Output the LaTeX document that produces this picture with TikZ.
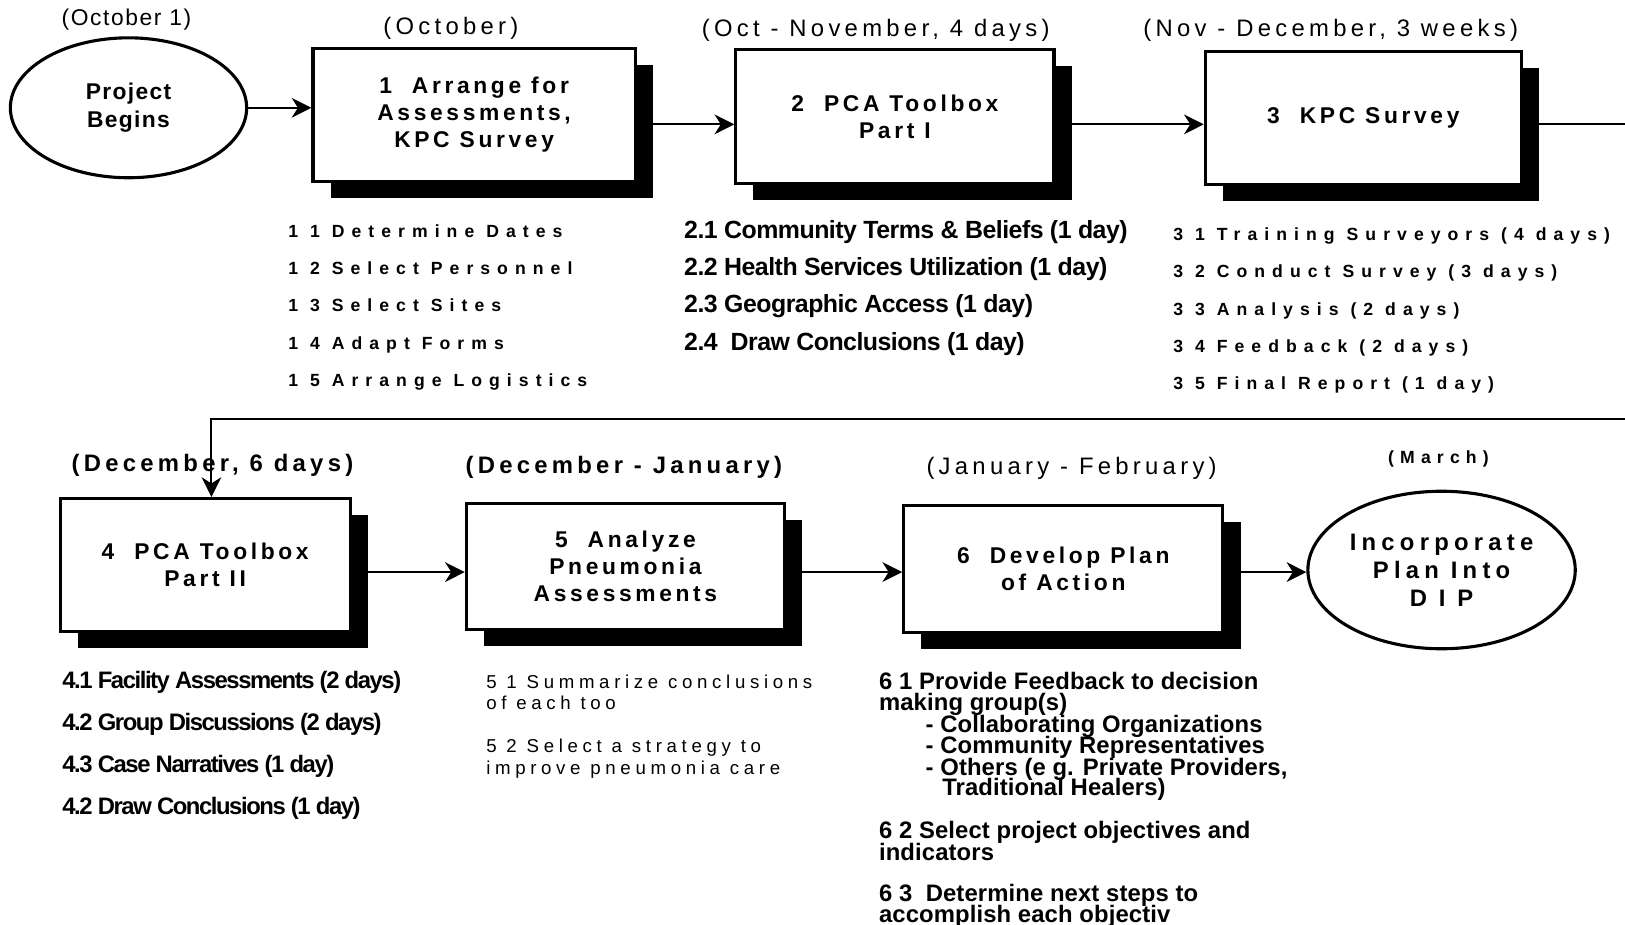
\documentclass[tikz,border=0pt]{standalone}
\usepackage{fontspec}
\setmainfont{Liberation Sans}
\newfontfamily\titlefont{Liberation Sans}[LetterSpace=16]
\newfontfamily\spaced{Liberation Sans}[LetterSpace=18]
\newfontfamily\lightspaced{Liberation Sans}[LetterSpace=7]
\newfontfamily\widefont{Liberation Sans}[LetterSpace=40]
\newfontfamily\medspaced{Liberation Sans}[LetterSpace=25]
\newfontfamily\marchfont{Liberation Sans}[LetterSpace=35]
\newfontfamily\tightfont{Liberation Sans}[LetterSpace=-2]
\newfontfamily\tighterfont{Liberation Sans}[LetterSpace=-6]
\newfontfamily\planfont{Liberation Sans}[LetterSpace=0.5]
\newfontfamily\ovalfont{Liberation Sans}[LetterSpace=6]
\newfontfamily\ovaltwofont{Liberation Sans}[LetterSpace=22]
\usetikzlibrary{shadows,arrows.meta,shapes.geometric}

\tikzset{
  stepbox/.style={draw, line width=3pt, fill=white, align=center, inner sep=0pt,
    font=\titlefont\bfseries\fontsize{22}{26}\selectfont,
    drop shadow={shadow xshift=17pt, shadow yshift=-16pt, fill=black, opacity=1}},
  oval/.style={ellipse, draw, line width=3pt, fill=white, inner sep=0pt, align=center},
  arr/.style={line width=2pt, -{Stealth[length=19pt, width=19pt, inset=6pt]}},
  conn/.style={line width=2pt},
  datelbl/.style={inner sep=0pt, font=\spaced\fontsize{23}{27}\selectfont},
  datebold/.style={inner sep=0pt, font=\spaced\bfseries\fontsize{23}{27}\selectfont},
  widelist/.style={inner sep=0pt, anchor=base west, font=\widefont\bfseries\fontsize{17}{20}\selectfont},
  narrowlist/.style={inner sep=0pt, anchor=base west, font=\tightfont\bfseries\fontsize{24}{28}\selectfont},
  narrowerlist/.style={inner sep=0pt, anchor=base west, font=\tighterfont\bfseries\fontsize{23}{27}\selectfont},
  plainlist/.style={inner sep=0pt, anchor=base west, font=\medspaced\fontsize{18}{21}\selectfont},
  planlist/.style={inner sep=0pt, anchor=base west, font=\planfont\bfseries\fontsize{23}{26}\selectfont},
}

\begin{document}
\begin{tikzpicture}[x=1pt, y=-1pt]
\useasboundingbox (0,0) rectangle (1568,892);

% ---- first row ----
\node[oval, minimum width=228pt, minimum height=135pt,
      font=\ovalfont\bfseries\fontsize{22}{27}\selectfont] (e1) at (124,104) {Project\\Begins};
\node[stepbox, minimum width=311pt, minimum height=128pt] (b1) at (457.5,111)
  {1\ \ Arrange for\\Assessments,\\KPC Survey};
\node[stepbox, minimum width=307pt, minimum height=129pt] (b2) at (863.5,112.5)
  {2\ \ PCA Toolbox\\Part I};
\node[stepbox, minimum width=305pt, minimum height=128pt] (b3) at (1315.5,114)
  {3\ \ KPC Survey};

\node[inner sep=0pt, font=\lightspaced\fontsize{22}{26}\selectfont] (d0) at (122,19) {(October 1)};
\node[datelbl] (d1) at (435,27) {(October)};
\node[datelbl] (d2) at (845,29) {(Oct - November, 4 days)};
\node[datelbl] (d3) at (1284,29) {(Nov - December, 3 weeks)};

% ---- second row ----
\node[stepbox, minimum width=280pt, minimum height=128pt] (b4) at (198,545)
  {4\ \ PCA Toolbox\\Part II};
\node[stepbox, minimum width=307pt, minimum height=121pt] (b5) at (603.5,546.5)
  {5\ \ Analyze\\Pneumonia\\Assessments};
\node[stepbox, minimum width=308pt, minimum height=122pt] (b6) at (1026,549)
  {6\ \ Develop Plan\\of Action};
\node[oval, minimum width=258pt, minimum height=152pt,
      font=\ovaltwofont\bfseries\fontsize{23}{27}\selectfont] (e2) at (1391,550)
  {Incorporate\\Plan Into\\D I P};

\node[datebold] (d4) at (205,449) {(December, 6 days)};
\node[datebold] (d5) at (602,451) {(December - January)};
\node[datelbl] (d6) at (1034,452) {(January - February)};
\node[inner sep=0pt, font=\marchfont\bfseries\fontsize{17}{20}\selectfont] (d7) at (1388,443) {(March)};

% ---- connectors ----
\coordinate (y1) at (0,120);
\coordinate (y2) at (0,552);
\coordinate (edge1) at (1568,120);
\coordinate (edge2) at (1568,404);
\coordinate (turn) at (204,404);

\draw[arr] (e1.east) -- (e1.east -| b1.west);
\draw[arr] (b1.east |- y1) -- (b2.west |- y1);
\draw[arr] (b2.east |- y1) -- (b3.west |- y1);
\draw[conn] (b3.east |- y1) -- (edge1);
\draw[arr] (edge2) -- (turn) -- (turn |- b4.north);
\draw[arr] (b4.east |- y2) -- (b5.west |- y2);
\draw[arr] (b5.east |- y2) -- (b6.west |- y2);
\draw[arr] (b6.east |- y2) -- (e2.west |- y2);

% ---- task lists ----
\foreach \t [count=\i] in {1 1 Determine Dates, 1 2 Select Personnel, 1 3 Select Sites,
    1 4 Adapt Forms, 1 5 Arrange Logistics}
  \node[widelist] (s1-\i) at (278,{229+36*(\i-1)}) {\t};

\foreach \t [count=\i] in {2.1 Community Terms \& Beliefs (1 day),
    2.2 Health Services Utilization (1 day), 2.3 Geographic Access (1 day),
    2.4\ \ Draw Conclusions (1 day)}
  \node[narrowlist] (s2-\i) at (660,{230+36*(\i-1)}) {\t};

\foreach \t [count=\i] in {3 1 Training Surveyors (4 days), 3 2 Conduct Survey (3 days),
    3 3 Analysis (2 days), 3 4 Feedback (2 days), 3 5 Final Report (1 day)}
  \node[widelist] (s3-\i) at (1132,{232+36*(\i-1)}) {\t};

\foreach \t [count=\i] in {4.1 Facility Assessments (2 days), 4.2 Group Discussions (2 days),
    4.3 Case Narratives (1 day), 4.2 Draw Conclusions (1 day)}
  \node[narrowerlist] (s4-\i) at (60,{664+40.7*(\i-1)}) {\t};

\node[plainlist] (s5-1) at (469,664) {5 1 Summarize conclusions};
\node[plainlist] (s5-2) at (469,685) {of each too};
\node[plainlist] (s5-3) at (469,726) {5 2 Select a strategy to};
\node[plainlist] (s5-4) at (469,747) {improve pneumonia care};

\node[planlist] (s6-1) at (848,665) {6 1 Provide Feedback to decision};
\node[planlist] (s6-2) at (848,686) {making group(s)};
\node[planlist] (s6-3) at (893,707) {- Collaborating Organizations};
\node[planlist] (s6-4) at (893,727) {- Community Representatives};
\node[planlist] (s6-5) at (893,748) {- Others (e g. Private Providers,};
\node[planlist] (s6-6) at (909,768) {Traditional Healers)};
\node[planlist] (s6-7) at (848,809) {6 2 Select project objectives and};
\node[planlist] (s6-8) at (848,830) {indicators};
\node[planlist] (s6-9) at (848,870) {6 3\ \ Determine next steps to};
\node[planlist] (s6-10) at (848,890) {accomplish each objectiv};
\end{tikzpicture}
\end{document}
